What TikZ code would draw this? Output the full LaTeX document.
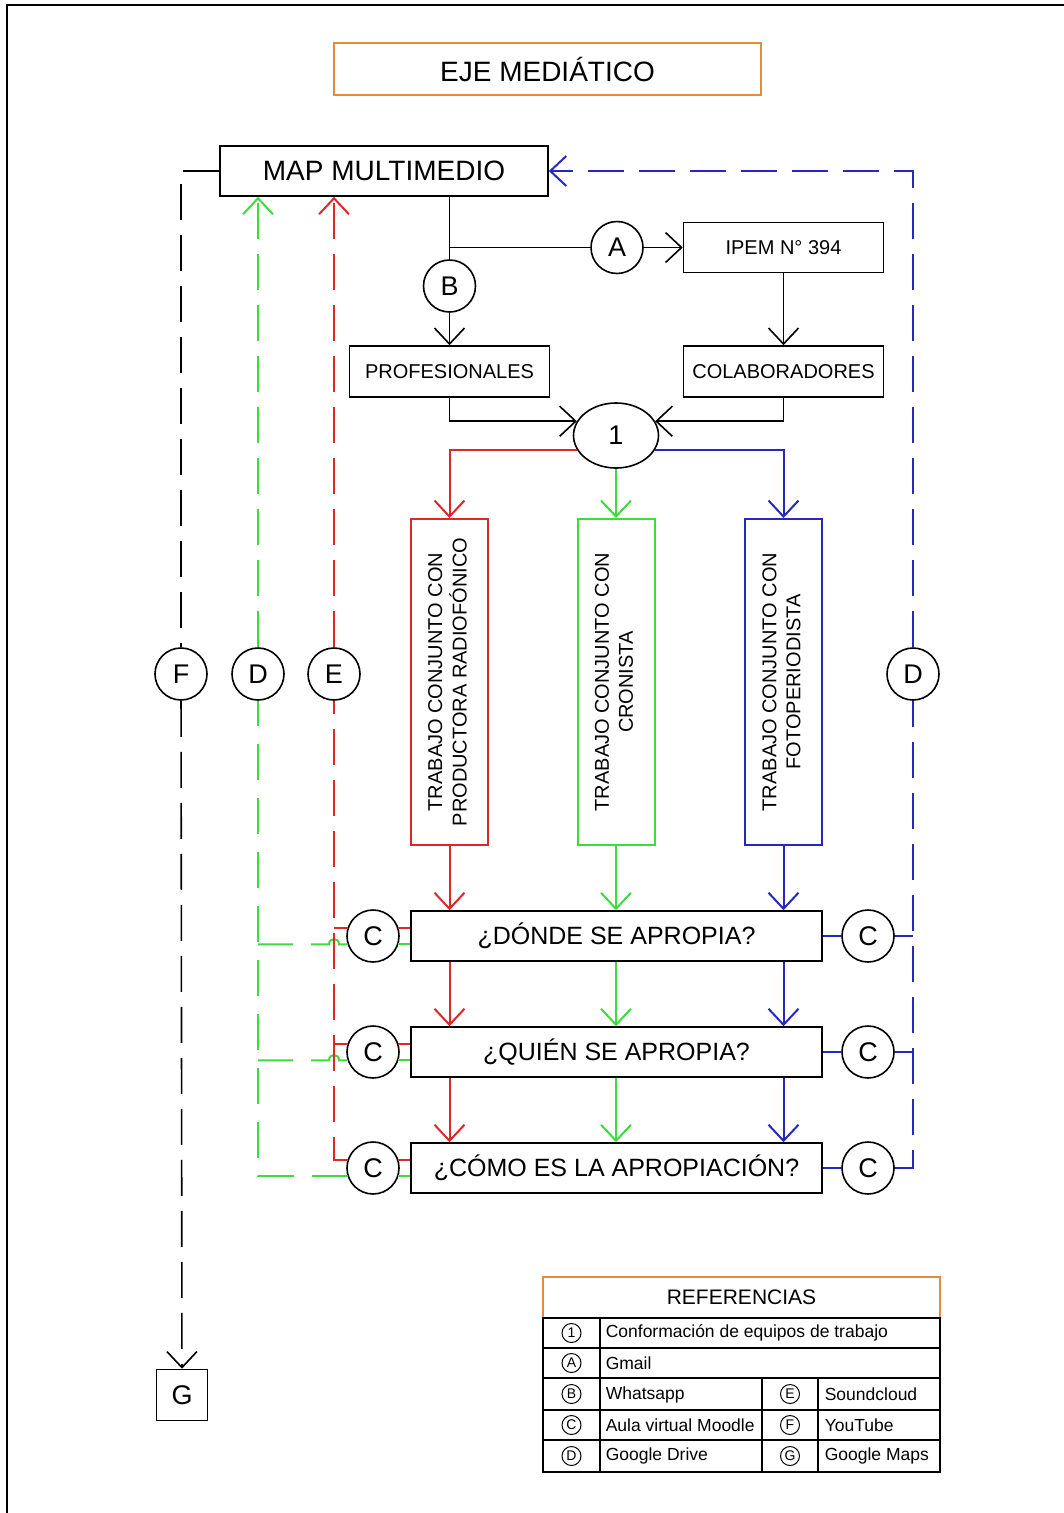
\documentclass[tikz,border=0pt]{standalone}
\usepackage{fontspec}
\setmainfont{Liberation Sans}
\usepackage{graphicx}
\usetikzlibrary{arrows.meta,shapes.geometric}

\definecolor{cred}{RGB}{220,40,40}
\definecolor{cgreen}{RGB}{60,220,60}
\definecolor{cblue}{RGB}{40,40,190}
\definecolor{corange}{RGB}{228,140,60}

\begin{document}
\begin{tikzpicture}[x=1pt, y=-1pt, line width=1.6pt,
  box_node/.style={rectangle, draw, inner sep=0pt, font=\fontsize{20}{24}\selectfont},
  circ_node/.style={circle, draw, minimum size=52pt, inner sep=0pt, font=\fontsize{27}{27}\selectfont},
  q_node/.style={box_node, minimum width=411pt, minimum height=50pt, font=\fontsize{25}{25}\selectfont},
  col_node/.style={box_node, minimum width=77pt, minimum height=326pt, line width=2pt},
  key_node/.style={circle, draw, line width=1pt, minimum size=19pt, inner sep=0pt, font=\fontsize{14}{14}\selectfont},
  ref_text/.style={anchor=west, inner sep=0pt, font=\fontsize{17.5}{17.5}\selectfont},
  arr/.style={-{Straight Barb[length=16pt,width=30pt]}},
  dash_line/.style={dash pattern=on 36pt off 15pt},
  tee_dash/.style={dash pattern=on 35pt off 18pt on 60pt off 10pt},
  red_line/.style={draw=cred, line width=2pt}, green_line/.style={draw=cgreen, line width=2pt},
  blue_line/.style={draw=cblue, line width=2pt},
  red_dash/.style={red_line, dash_line}, green_dash/.style={green_line, dash_line},
  blue_dash/.style={blue_line, dash_line}, black_dash/.style={dash_line}]

\useasboundingbox (0,0) rectangle (1064,1513);
\draw[line width=2pt] (7,1513) -- (7,5) -- (1064,5);

    \node[box_node, draw=corange, minimum width=427pt, minimum height=52pt, font=\fontsize{28}{28}\selectfont] (1) at (547.5,69) {EJE MEDIÁTICO};
    \node[box_node, minimum width=328pt, minimum height=50pt, font=\fontsize{28}{28}\selectfont] (2) at (384,171) {MAP MULTIMEDIO};
    \node[circ_node] (3) at (617,247.5) {A};
    \node[box_node, minimum width=200pt, minimum height=50pt] (4) at (783.5,247.5) {IPEM N° 394};
    \node[circ_node] (5) at (449.5,286) {B};
    \node[box_node, minimum width=200pt, minimum height=51pt] (6) at (449.5,371.5) {PROFESIONALES};
    \node[box_node, minimum width=200pt, minimum height=51pt] (7) at (783.5,371.5) {COLABORADORES};
    \node[ellipse, draw, minimum width=85pt, minimum height=65pt, inner sep=0pt, font=\fontsize{27}{27}\selectfont] (8) at (616,435.5) {1};

    \node[col_node, draw=cred] (9) at (449.5,682) {\rotatebox{90}{\begin{tabular}{@{}c@{}}TRABAJO CONJUNTO CON\\PRODUCTORA RADIOFÓNICO\end{tabular}}};
    \node[col_node, draw=cgreen] (10) at (616,682) {\rotatebox{90}{\begin{tabular}{@{}c@{}}TRABAJO CONJUNTO CON\\CRONISTA\end{tabular}}};
    \node[col_node, draw=cblue] (11) at (783.5,682) {\rotatebox{90}{\begin{tabular}{@{}c@{}}TRABAJO CONJUNTO CON\\FOTOPERIODISTA\end{tabular}}};

    \node[q_node] (12) at (616.5,936) {¿DÓNDE SE APROPIA?};
    \node[q_node] (13) at (616.5,1052) {¿QUIÉN SE APROPIA?};
    \node[q_node] (14) at (616.5,1168) {¿CÓMO ES LA APROPIACIÓN?};

    \node[circ_node] (15) at (373,936) {C};
    \node[circ_node] (16) at (373,1052) {C};
    \node[circ_node] (17) at (373,1168) {C};
    \node[circ_node] (18) at (868,936) {C};
    \node[circ_node] (19) at (868,1052) {C};
    \node[circ_node] (20) at (868,1168) {C};

    \node[circ_node] (21) at (181,674) {F};
    \node[circ_node] (22) at (258,674) {D};
    \node[circ_node] (23) at (334,674) {E};
    \node[circ_node] (24) at (913,674) {D};
    \node[box_node, minimum size=51pt, font=\fontsize{27}{27}\selectfont] (25) at (182,1395) {G};

    % upper part
    \draw (5 |- 2.south) -- (5);
    \draw (5 |- 3) -- (3);
    \draw[arr] (3) -- (4);
    \draw[arr] (5) -- (6);
    \draw[arr] (4) -- (7);
    \draw[arr] (6) |- (8.160);
    \draw[arr] (7) |- (8.20);

    \draw[red_line, arr] (8.200) -| (9.north);
    \draw[green_line, arr] (8.south) -- (10.north);
    \draw[blue_line, arr] (8.340) -| (11.north);

    \draw[red_line, arr] (9.south) -- (12.north -| 9.south);
    \draw[green_line, arr] (10.south) -- (12.north -| 10.south);
    \draw[blue_line, arr] (11.south) -- (12.north -| 11.south);
    \draw[red_line, arr] (12.south -| 9) -- (13.north -| 9);
    \draw[green_line, arr] (12.south -| 10) -- (13.north -| 10);
    \draw[blue_line, arr] (12.south -| 11) -- (13.north -| 11);
    \draw[red_line, arr] (13.south -| 9) -- (14.north -| 9);
    \draw[green_line, arr] (13.south -| 10) -- (14.north -| 10);
    \draw[blue_line, arr] (13.south -| 11) -- (14.north -| 11);

    % moodle, left side
    \draw[red_line] (15.18) -- (15.18 -| 12.west);
    \draw[green_line] (15.342) -- (15.342 -| 12.west);
    \draw[red_line] (16.18) -- (16.18 -| 13.west);
    \draw[green_line] (16.342) -- (16.342 -| 13.west);
    \draw[red_line] (17.18) -- (17.18 -| 14.west);
    \draw[green_line] (17.342) -- (17.342 -| 14.west);

    \draw[red_line] (15.162) -- (15.162 -| 23);
    \draw[red_line] (16.162) -- (16.162 -| 23);
    \draw[green_line, tee_dash] (15.198 -| 22) -- ([xshift=-5pt]15.198 -| 23) .. controls +(0,-7) and +(0,-7) .. ([xshift=5pt]15.198 -| 23) -- (15.198);
    \draw[green_line, tee_dash] (16.198 -| 22) -- ([xshift=-5pt]16.198 -| 23) .. controls +(0,-7) and +(0,-7) .. ([xshift=5pt]16.198 -| 23) -- (16.198);

    \draw[red_dash] (17.162) -| (23);
    \draw[red_dash, arr] (23) -- (23 |- 2.south);
    \draw[green_line, dash pattern=on 36pt off 18pt] (17.198) -| (22);
    \draw[green_dash, arr] (22) -- (22 |- 2.south);

    % moodle, right side
    \draw[blue_line] (12.east) -- (18);
    \draw[blue_line] (18) -- (18 -| 24);
    \draw[blue_line] (13.east) -- (19);
    \draw[blue_line] (19) -- (19 -| 24);
    \draw[blue_line] (14.east) -- (20);
    \draw[blue_dash] (20) -| (24);
    \draw[blue_dash, arr] (24) |- (2.east);

    % youtube
    \draw[black_dash] (2.west) -| (21);
    \draw[black_dash, arr] (21) -- (25);

    % references
    \node[box_node, draw=corange, minimum width=397pt, minimum height=41pt, font=\fontsize{21}{21}\selectfont] (26) at (741.5,1297.5) {REFERENCIAS};
    \draw (543,1318) rectangle (940,1472);
    \draw (543,1348) -- (940,1348);
    \draw (543,1378) -- (940,1378);
    \draw (543,1410) -- (940,1410);
    \draw (543,1440) -- (940,1440);
    \draw (600,1318) -- (600,1472);
    \draw (762,1378) -- (762,1472);
    \draw (818,1378) -- (818,1472);

    \node[key_node] (27) at (571.5,1333) {1};
    \node[key_node] (28) at (571.5,1363) {A};
    \node[key_node] (29) at (571.5,1394) {B};
    \node[key_node] (30) at (571.5,1425) {C};
    \node[key_node] (31) at (571.5,1456) {D};
    \node[key_node] (32) at (790,1394) {E};
    \node[key_node] (33) at (790,1425) {F};
    \node[key_node] (34) at (790,1456) {G};

    \node[ref_text] (35) at (605,1333) {Conformación de equipos de trabajo};
    \node[ref_text] (36) at (605,1363) {Gmail};
    \node[ref_text] (37) at (605,1395) {Whatsapp};
    \node[ref_text] (38) at (605,1425) {Aula virtual Moodle};
    \node[ref_text] (39) at (605,1456) {Google Drive};
    \node[ref_text] (40) at (824,1394) {Soundcloud};
    \node[ref_text] (41) at (824,1425) {YouTube};
    \node[ref_text] (42) at (824,1456) {Google Maps};

\end{tikzpicture}
\end{document}
